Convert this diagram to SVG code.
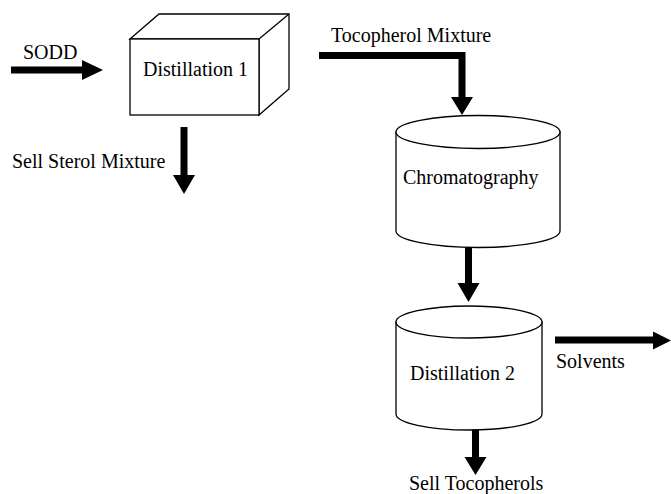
<svg xmlns="http://www.w3.org/2000/svg" width="671" height="494" viewBox="0 0 671 494">
  <style>
    .shape { fill: #ffffff; stroke: #000000; stroke-width: 1.3; }
    .edge { fill: none; stroke: #000000; stroke-width: 1.3; }
    .label { font-family: "Liberation Serif", "Times New Roman", serif; font-size: 20px; fill: #000000; }
    .shaft { fill: none; stroke: #000000; stroke-width: 7; }
    .head { fill: #000000; stroke: none; }
  </style>
  <rect x="0" y="0" width="671" height="494" fill="#ffffff"/>

  <g id="connectors">
    <!-- SODD -> Distillation 1 -->
    <line class="shaft" x1="11" y1="70" x2="84" y2="70"/>
    <polygon class="head" points="82,60 103,70 82,80"/>
    <!-- Distillation 1 -> Sell Sterol Mixture -->
    <line class="shaft" x1="184" y1="127" x2="184" y2="177"/>
    <polygon class="head" points="173,175 195,175 184,194"/>
    <!-- Distillation 1 -> Chromatography (Tocopherol Mixture) -->
    <polyline class="shaft" points="319,55.5 462,55.5 462,99"/>
    <polygon class="head" points="451,97 473,97 462,115"/>
    <!-- Chromatography -> Distillation 2 -->
    <line class="shaft" x1="468.5" y1="245" x2="468.5" y2="285"/>
    <polygon class="head" points="457.5,283 479.5,283 468.5,302"/>
    <!-- Distillation 2 -> Solvents -->
    <line class="shaft" x1="555" y1="340" x2="655" y2="340"/>
    <polygon class="head" points="653,331.5 671,340.5 653,349.5"/>
    <!-- Distillation 2 -> Sell Tocopherols -->
    <line class="shaft" x1="475.5" y1="430" x2="475.5" y2="459"/>
    <polygon class="head" points="464.5,457 486.5,457 475.5,475"/>
  </g>

  <g id="distillation1">
    <polygon class="shape" points="130,39 159,14 289,14 289,89 259,115 259,39"/>
    <rect class="shape" x="130" y="39" width="129" height="76"/>
    <line class="edge" x1="259" y1="39" x2="289" y2="14"/>
    <text class="label" x="143" y="76">Distillation 1</text>
  </g>

  <g id="chromatography">
    <path class="shape" d="M396,132 L396,231 A82,16.5 0 0 0 560,231 L560,132 Z"/>
    <ellipse class="shape" cx="478" cy="132" rx="82" ry="16.5"/>
    <text class="label" x="403" y="184">Chromatography</text>
  </g>

  <g id="distillation2">
    <path class="shape" d="M396,322 L396,414 A73,16 0 0 0 542,414 L542,322 Z"/>
    <ellipse class="shape" cx="469" cy="322" rx="73" ry="16"/>
    <text class="label" x="410" y="380">Distillation 2</text>
  </g>

  <g id="labels">
    <text class="label" x="23" y="59">SODD</text>
    <text class="label" x="12" y="168">Sell Sterol Mixture</text>
    <text class="label" x="331" y="42">Tocopherol Mixture</text>
    <text class="label" x="556" y="368">Solvents</text>
    <text class="label" x="409" y="490">Sell Tocopherols</text>
  </g>
</svg>
